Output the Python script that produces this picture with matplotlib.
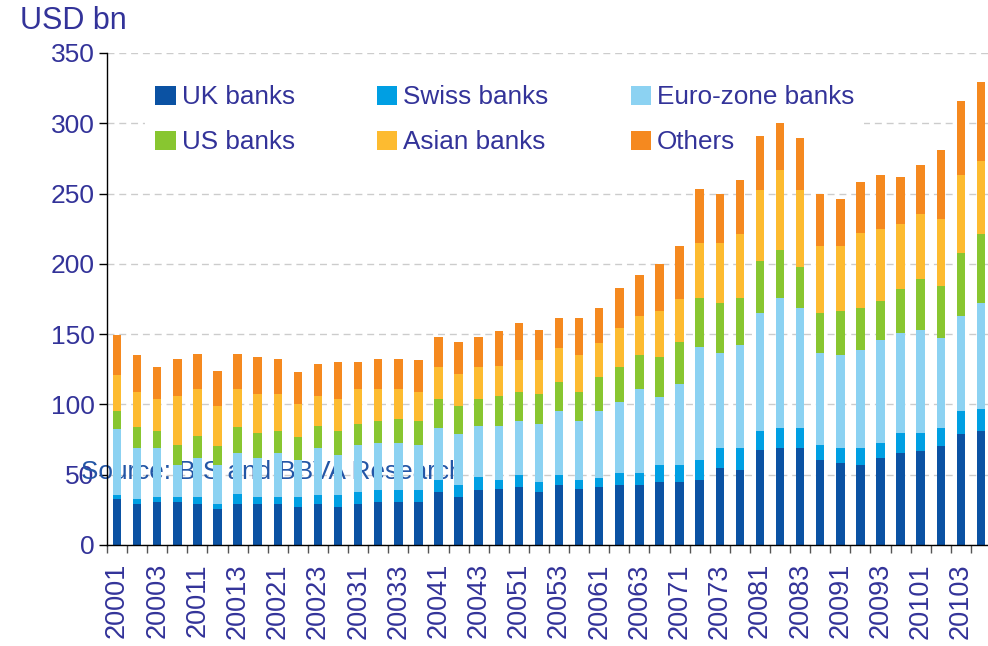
import matplotlib
matplotlib.use('Agg')
import matplotlib.pyplot as plt
import numpy as np

plt.rcParams['font.family'] = ['Liberation Sans', 'DejaVu Sans']

# quarters 2000Q1 .. 2010Q4
quarters = ['%d%d' % (y, q) for y in range(2000, 2011) for q in range(1, 5)]

uk_banks = [32.8, 29.5, 30.7, 30.7, 29.5, 25.9, 29.5, 29.5, 29.5, 27.2, 29.5,
            27.2, 29.3, 30.7, 30.7, 30.7, 37.8, 34.3, 39.2, 40.0, 41.4, 37.8,
            42.8, 40.0, 41.4, 42.8, 42.8, 44.9, 44.9, 46.3, 54.9, 53.4, 67.7,
            69.1, 69.1, 60.6, 58.4, 57.0, 62.0, 65.6, 67.0, 70.5, 79.1, 81.2]
swiss_banks = [3.0, 3.5, 3.6, 3.6, 4.8, 3.6, 7.1, 4.8, 4.8, 7.1, 6.3,
               8.5, 8.5, 8.5, 8.5, 8.5, 8.5, 8.5, 9.3, 6.3, 8.5, 7.1,
               7.1, 6.3, 6.4, 8.5, 8.5, 12.1, 12.1, 14.3, 14.2, 15.7, 13.5,
               14.3, 14.3, 10.7, 10.7, 12.1, 10.7, 14.2, 12.8, 12.9, 16.4, 15.7]
euro_banks = [47.0, 36.3, 35.0, 22.9, 27.9, 27.7, 29.2, 27.9, 31.5, 26.4, 33.5,
              28.4, 33.4, 33.4, 33.4, 32.0, 36.9, 36.2, 36.1, 38.3, 38.3, 41.2,
              45.4, 41.9, 47.5, 50.4, 59.6, 48.5, 57.7, 80.5, 67.7, 73.4, 84.1,
              92.6, 85.5, 65.5, 66.3, 69.9, 73.4, 71.3, 73.4, 64.1, 67.7, 75.5]
us_banks = [12.7, 14.3, 12.0, 14.2, 15.5, 13.4, 17.8, 17.8, 15.5, 15.8, 15.5,
            17.0, 14.9, 15.6, 17.0, 17.0, 20.6, 19.8, 19.2, 21.3, 20.5, 21.2,
            20.5, 20.5, 24.1, 24.8, 24.1, 28.5, 30.0, 34.9, 35.6, 33.5, 36.4,
            34.2, 29.2, 28.5, 31.3, 29.9, 27.8, 31.3, 36.3, 37.1, 44.2, 48.5]
asian_banks = [25.7, 25.4, 22.8, 34.8, 33.6, 28.4, 27.7, 27.7, 26.4, 23.9, 21.4,
               22.7, 24.8, 22.7, 21.3, 20.5, 22.7, 22.7, 22.7, 21.3, 22.7, 24.1,
               24.2, 26.3, 24.1, 27.6, 27.6, 32.7, 30.6, 38.5, 42.1, 44.9, 50.6,
               56.3, 54.2, 47.1, 45.7, 53.4, 50.6, 45.6, 45.7, 47.0, 55.5, 52.0]
others = [28.4, 26.4, 22.6, 26.4, 24.8, 25.0, 24.8, 26.2, 24.9, 22.6, 22.8,
          26.2, 19.1, 21.3, 21.3, 22.7, 21.3, 22.7, 21.3, 24.8, 26.3, 21.3,
          21.2, 26.2, 24.8, 28.4, 29.8, 33.5, 37.1, 38.5, 34.9, 38.5, 38.4,
          33.5, 37.0, 37.0, 33.4, 35.7, 38.4, 33.5, 34.9, 49.2, 52.8, 56.3]

series = [('UK banks', uk_banks, '#0B52A3'),
          ('Swiss banks', swiss_banks, '#009FE3'),
          ('Euro-zone banks', euro_banks, '#8CD2F2'),
          ('US banks', us_banks, '#88C630'),
          ('Asian banks', asian_banks, '#FDBB30'),
          ('Others', others, '#F5891F')]

txt = '#333399'

fig = plt.figure(figsize=(9.88, 6.46), dpi=100)
ax = fig.add_axes([107/988, 101/646, 884/988, 492/646])

x = np.arange(len(quarters))
bottom = np.zeros(len(quarters))
handles = {}
for name, vals, col in series:
    vals = np.array(vals)
    b = ax.bar(x, vals, 0.42, bottom=bottom, color=col, label=name, zorder=2)
    handles[name] = b
    bottom += vals

ax.set_xlim(-0.5, len(quarters) - 0.5)
ax.set_ylim(0, 350)
ax.set_yticks(range(0, 351, 50))
ax.set_axisbelow(True)
ax.yaxis.grid(True, color='#CCCCCC', lw=1.0, dashes=(5, 3.5))
for s in ['top', 'right']:
    ax.spines[s].set_visible(False)
ax.spines['left'].set_linewidth(1.0)
ax.spines['bottom'].set_linewidth(1.0)

ax.tick_params(axis='y', direction='out', length=6, width=1, pad=3,
               labelsize=19, labelcolor=txt)
ax.set_xticks(x[::2])
ax.set_xticklabels(quarters[::2], rotation=90, va='top', ha='center')
ax.set_xticks(np.arange(-0.5, len(quarters), 1), minor=True)
ax.tick_params(axis='x', which='major', length=0, pad=13,
               labelsize=19.5, labelcolor=txt)
ax.tick_params(axis='x', which='minor', length=6, width=1, color='#555555')

order = ['UK banks', 'US banks', 'Swiss banks', 'Asian banks',
         'Euro-zone banks', 'Others']
leg = ax.legend([handles[k] for k in order], order, ncol=3,
                loc='upper left', bbox_to_anchor=(145/988, 1 - 75/646),
                bbox_transform=fig.transFigure, borderaxespad=0,
                fontsize=18.8, frameon=True, facecolor='white',
                edgecolor='none', framealpha=1, fancybox=False,
                handlelength=0.77, handleheight=0.77, handletextpad=0.23,
                columnspacing=3.15, labelspacing=0.8, borderpad=0.4)
leg.set_zorder(1.5)
for t in leg.get_texts():
    t.set_color(txt)

fig.text(20/988, 1 - 21/646, 'USD bn', fontsize=22, color=txt, va='center')
ax.text(-1.8, 52, 'Source: BIS and BBVA Research', fontsize=18.8,
        color='#2356A6', va='center', ha='left', zorder=1, clip_on=False)

fig.savefig('out.png', dpi=100)
